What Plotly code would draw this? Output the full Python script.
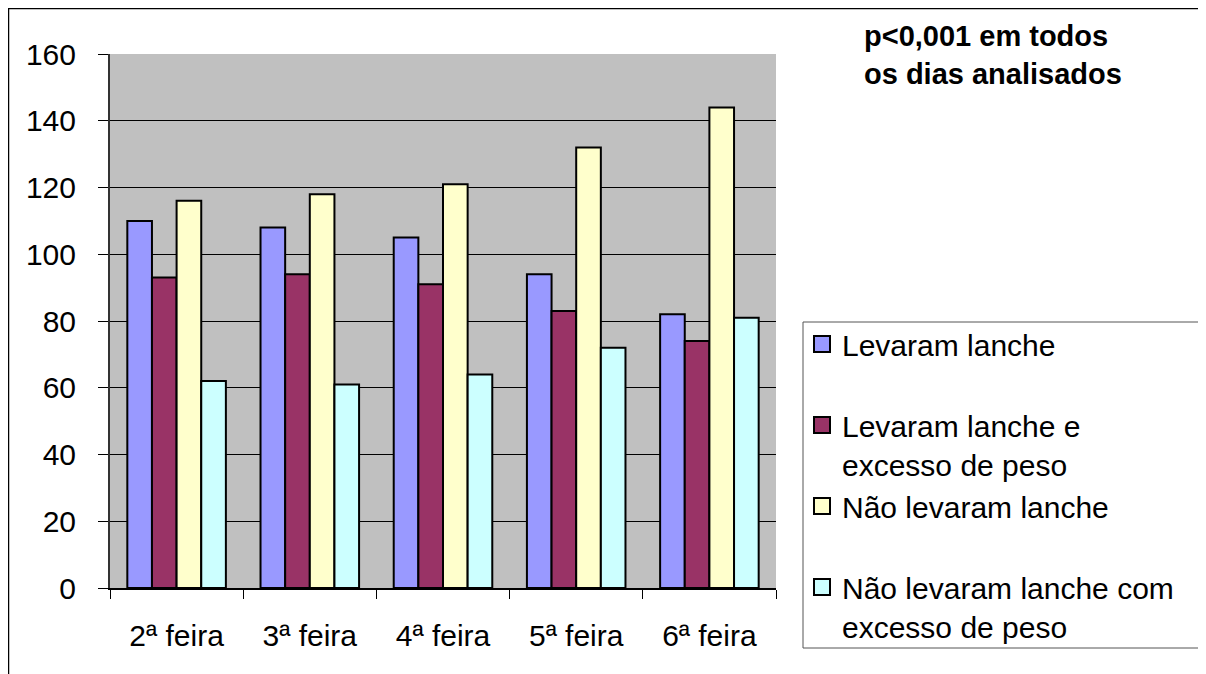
import plotly.graph_objects as go

days = ["2ª feira", "3ª feira", "4ª feira", "5ª feira", "6ª feira"]
series_names = [
    "Levaram lanche<br> ",
    "Levaram lanche e<br>excesso de peso",
    "Não levaram lanche<br> ",
    "Não levaram lanche com<br>excesso de peso",
]
levaram = [110, 108, 105, 94, 82]
levaram_excesso = [93, 94, 91, 83, 74]
nao_levaram = [116, 118, 121, 132, 144]
nao_levaram_excesso = [62, 61, 64, 72, 81]
colors = ["#9999FF", "#993366", "#FFFFCC", "#CCFFFF"]

fig = go.Figure()
for name, vals, col in zip(series_names,
                           [levaram, levaram_excesso, nao_levaram, nao_levaram_excesso],
                           colors):
    fig.add_trace(go.Bar(
        x=days, y=vals, name=name, legendgroup=name, showlegend=False,
        marker=dict(color=col, line=dict(color="black", width=2)),
    ))
    # legend-only entry with a bigger square swatch
    fig.add_trace(go.Scatter(
        x=[None], y=[None], mode="markers", name=name, legendgroup=name,
        marker=dict(symbol="square", size=16, color=col,
                    line=dict(color="black", width=2)),
    ))

# page has an 8px body margin; positions below are page pixels
OFF = 8
FW, FH = 1206 - OFF, 674 - OFF
L, R, T, B = 110 - OFF, 776 - OFF, 54 - OFF, 588 - OFF
W, H = R - L, B - T


def px(x):
    return (x - OFF - L) / W


def py(y):
    return (B - (y - OFF)) / H


fig.update_layout(
    width=FW, height=FH,
    margin=dict(l=L, r=FW - R, t=T, b=FH - B, autoexpand=False),
    paper_bgcolor="white",
    plot_bgcolor="#C0C0C0",
    barmode="group",
    bargap=0.26,
    bargroupgap=0,
    font=dict(family="Liberation Sans, Arial, sans-serif", color="black", size=30),
    showlegend=True,
    legend=dict(
        x=px(802), y=py(318), xanchor="left", yanchor="top",
        xref="paper", yref="paper",
        bgcolor="rgba(0,0,0,0)", borderwidth=0,
        font=dict(size=30),
        valign="top",
        tracegroupgap=5,
        traceorder="normal",
        itemsizing="trace",
        itemwidth=30,
    ),
    shapes=[
        dict(type="rect", xref="paper", yref="paper",
             x0=px(803), x1=px(1205), y0=py(322), y1=py(648),
             fillcolor="white", line=dict(color="#555555", width=1), layer="below"),
        dict(type="line", xref="paper", yref="paper",
             x0=px(8), x1=px(1206), y0=py(8.5), y1=py(8.5),
             line=dict(color="black", width=1.5)),
        dict(type="line", xref="paper", yref="paper",
             x0=px(8.5), x1=px(8.5), y0=py(8), y1=py(674),
             line=dict(color="black", width=1.5)),
    ],
    annotations=[
        dict(text="<b>p&lt;0,001 em todos<br>os dias analisados</b>",
             xref="paper", yref="paper", x=px(862), y=py(18),
             xanchor="left", yanchor="top", align="left", showarrow=False,
             font=dict(size=29)),
    ],
)

fig.update_xaxes(
    showgrid=False, showline=True, linecolor="black", linewidth=1.5,
    ticks="outside", tickson="boundaries", ticklen=9, tickcolor="black",
    ticklabelstandoff=20,
    zeroline=False,
)
fig.update_yaxes(
    range=[0, 160], dtick=20, showgrid=True, gridcolor="black", gridwidth=1,
    showline=True, linecolor="#333333", linewidth=2,
    ticks="outside", ticklen=10, tickcolor="black",
    ticklabelstandoff=16, zeroline=False,
)

fig.write_html("out.html")
